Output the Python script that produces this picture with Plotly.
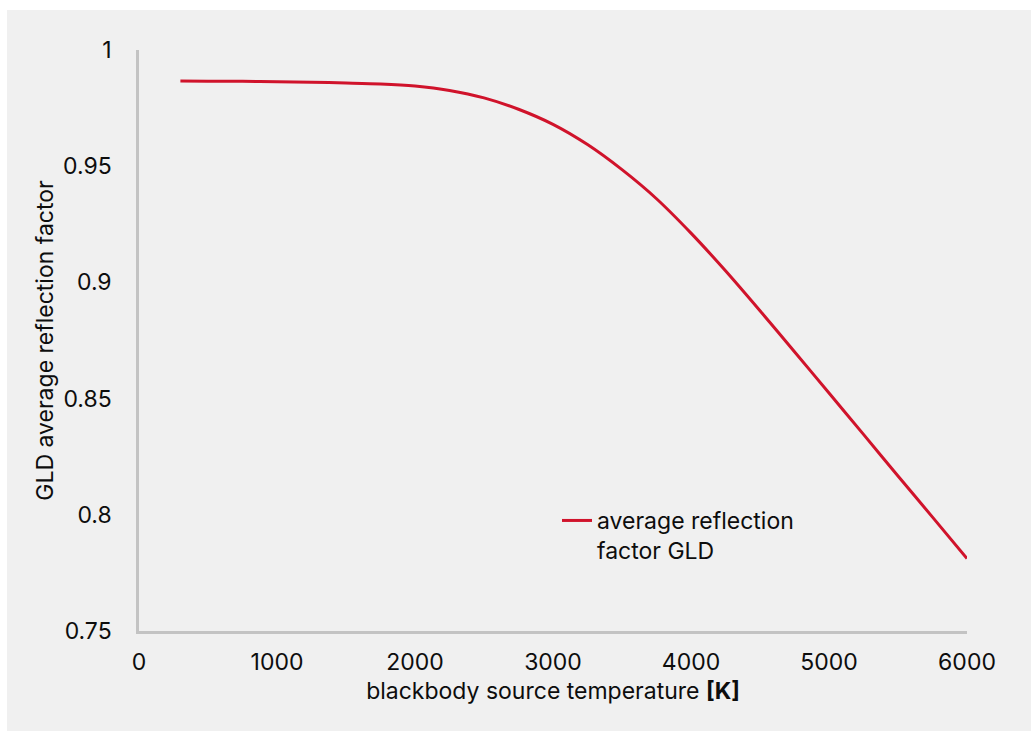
import plotly.graph_objects as go

# Data
temperature_K = [300, 500, 750, 1000, 1250, 1500, 1750, 2000, 2250, 2500, 2750,
                 3000, 3250, 3500, 3750, 4000, 4250, 4500, 4750, 5000, 5250,
                 5500, 5750, 6000]
reflection_factor = [0.9867, 0.9866, 0.9865, 0.9863, 0.9861, 0.9858, 0.9854, 0.9845,
                     0.9826, 0.9794, 0.9745, 0.9680, 0.9593, 0.9485, 0.9360, 0.9212,
                     0.9050, 0.8878, 0.8702, 0.8524, 0.8346, 0.8167, 0.7990, 0.7812]

series_name = "average reflection<br>factor GLD"
x_title = "blackbody source temperature <b>[K]</b>"
y_title = "GLD average reflection factor"
x_ticks = [0, 1000, 2000, 3000, 4000, 5000, 6000]
y_ticks = [0.75, 0.8, 0.85, 0.9, 0.95, 1]
y_tick_text = ["0.75", "0.8", "0.85", "0.9", "0.95", "1"]

FONT = "Inter, 'Liberation Sans', Arial, sans-serif"
TXT = "#0d0d0d"
AX = "#c3c3c3"

fig = go.Figure()
fig.add_trace(go.Scatter(
    x=temperature_K, y=reflection_factor, mode="lines", name=series_name,
    line=dict(color="#d0132b", width=3, shape="spline", smoothing=0.8),
    showlegend=True,
))

W, H = 1033, 731
L, R, T, B = 139, 66, 50, 100
PW, PH = W - L - R, H - T - B

fig.update_layout(
    width=W, height=H,
    margin=dict(l=L, r=R, t=T, b=B, autoexpand=False),
    paper_bgcolor="white",
    plot_bgcolor="rgba(0,0,0,0)",
    font=dict(family=FONT, size=22, color=TXT),
    showlegend=True,
    legend=dict(
        x=(557 - L) / PW, y=(631 - 499) / PH,
        xanchor="left", yanchor="top",
        bgcolor="rgba(0,0,0,0)", borderwidth=0,
        font=dict(family=FONT, size=23, color=TXT),
        valign="top", tracegroupgap=0,
    ),
    xaxis=dict(
        range=[0, 6000], tickvals=x_ticks, showgrid=False, zeroline=False,
        showline=True, linecolor=AX, linewidth=2.5, ticks="",
        ticklabelstandoff=9,
        tickfont=dict(family=FONT, size=23, color=TXT),
        title=dict(text=x_title, font=dict(family=FONT, size=23, color=TXT), standoff=8),
    ),
    yaxis=dict(
        range=[0.75, 1], tickvals=y_ticks, ticktext=y_tick_text, showgrid=False,
        zeroline=False, showline=True, linecolor=AX, linewidth=2.5, ticks="",
        ticklabelstandoff=20,
        tickfont=dict(family=FONT, size=23, color=TXT),
        title=dict(text=y_title, font=dict(family=FONT, size=23, color=TXT), standoff=3),
    ),
    shapes=[dict(
        type="rect", xref="paper", yref="paper", layer="below",
        x0=(7 - L) / PW, x1=(1031 - L) / PW,
        y0=(631 - 735) / PH, y1=(631 - 10) / PH,
        fillcolor="#f0f0f0", line=dict(width=0),
    )],
)

fig.write_html(
    "out.html",
    config={"displayModeBar": False},
    post_script="document.body.style.margin='0';document.body.style.overflow='hidden';",
)
